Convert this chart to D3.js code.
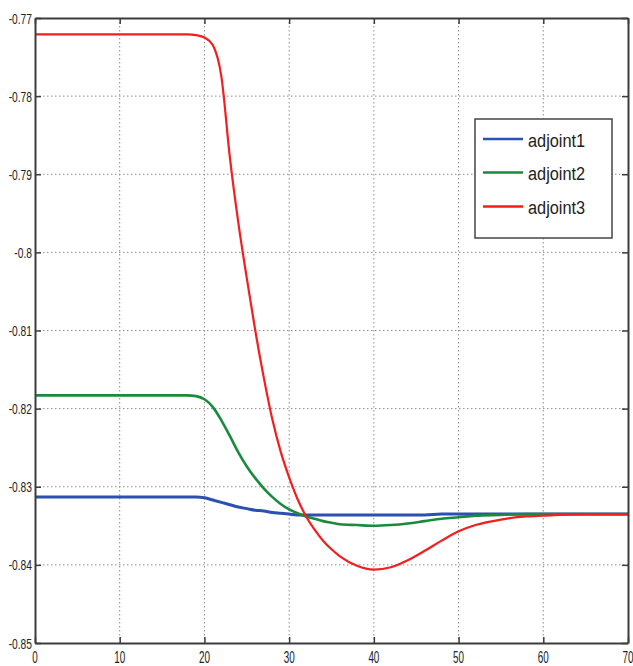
<!DOCTYPE html>
<html>
<head>
<meta charset="utf-8">
<script src="https://cdn.jsdelivr.net/npm/d3@7"></script>
<style>
  html, body { margin: 0; padding: 0; background: #fff; }
  svg { display: block; }
  .lbl { font-family: "Liberation Sans", Arial, sans-serif; fill: #222; }
</style>
</head>
<body>
<svg id="chart" width="633" height="666"></svg>
<script>
// Time samples shared by all three adjoint trajectories
const tValues = [0, 10, 18, 19, 20, 21, 22, 23, 24, 25, 26, 27, 28, 29, 30, 31, 32, 33, 34, 35, 36, 38, 40, 42, 44, 46, 48, 50, 52, 55, 58, 60, 65, 70];

const adjoint1 = [-0.8313, -0.8313, -0.8313, -0.8313, -0.8314, -0.8317, -0.8320, -0.8323, -0.8326, -0.8328, -0.8330, -0.8331, -0.8333, -0.8334, -0.8335, -0.8336, -0.8336, -0.8336, -0.8336, -0.8336, -0.8336, -0.8336, -0.8336, -0.8336, -0.8336, -0.8336, -0.8335, -0.8335, -0.8335, -0.8335, -0.8335, -0.8335, -0.8335, -0.8335];

const adjoint2 = [-0.8183, -0.8183, -0.8183, -0.8184, -0.8188, -0.8198, -0.8215, -0.8235, -0.8256, -0.8274, -0.8289, -0.8302, -0.8313, -0.8322, -0.8329, -0.8334, -0.8338, -0.8341, -0.8344, -0.8346, -0.8348, -0.8349, -0.8350, -0.8349, -0.8347, -0.8344, -0.8341, -0.8339, -0.8337, -0.8336, -0.8335, -0.8335, -0.8335, -0.8335];

const adjoint3 = [-0.7721, -0.7721, -0.7721, -0.7722, -0.7725, -0.7735, -0.7775, -0.7878, -0.7962, -0.8033, -0.8100, -0.8160, -0.8213, -0.8255, -0.8288, -0.8316, -0.8338, -0.8355, -0.8369, -0.8380, -0.8389, -0.8401, -0.8406, -0.8403, -0.8394, -0.8382, -0.8369, -0.8357, -0.8349, -0.8342, -0.8338, -0.8337, -0.8335, -0.8335];

const seriesNames = ["adjoint1", "adjoint2", "adjoint3"];
const seriesColors = ["#2b4fb3", "#1a8a3e", "#f51d1d"];

const xTicks = [0, 10, 20, 30, 40, 50, 60, 70];
const yTicks = [-0.77, -0.78, -0.79, -0.8, -0.81, -0.82, -0.83, -0.84, -0.85];
const yTickLabels = ["-0.77", "-0.78", "-0.79", "-0.8", "-0.81", "-0.82", "-0.83", "-0.84", "-0.85"];

const svg = d3.select("#chart");
const plot = { left: 35, right: 628, top: 18, bottom: 643 };

const x = d3.scaleLinear().domain([0, 70]).range([plot.left, plot.right]);
const y = d3.scaleLinear().domain([-0.85, -0.77]).range([plot.bottom, plot.top]);

// dotted grid
const grid = svg.append("g");
grid.selectAll("line.gx").data(xTicks.slice(1, -1)).join("line")
  .attr("x1", d => x(d)).attr("x2", d => x(d))
  .attr("y1", plot.top).attr("y2", plot.bottom)
  .attr("stroke", "#8c8c8c").attr("stroke-width", 1).attr("stroke-dasharray", "1.5,2.5");
grid.selectAll("line.gy").data(yTicks.slice(1, -1)).join("line")
  .attr("x1", plot.left).attr("x2", plot.right)
  .attr("y1", d => y(d)).attr("y2", d => y(d))
  .attr("stroke", "#8c8c8c").attr("stroke-width", 1).attr("stroke-dasharray", "1.5,2.5");

// curves
const series = [adjoint1, adjoint2, adjoint3];
const widths = [3, 2.6, 2.2];
const line = d3.line().x(d => x(d[0])).y(d => y(d[1])).curve(d3.curveMonotoneX);
series.forEach((vals, i) => {
  svg.append("path")
    .datum(tValues.map((t, k) => [t, vals[k]]))
    .attr("d", line)
    .attr("fill", "none")
    .attr("stroke", seriesColors[i])
    .attr("stroke-width", widths[i])
    .attr("stroke-linejoin", "round");
});

// axes box with inward ticks on all four sides
const axisCol = "#3c3c3c";
const bottomAxis = d3.axisBottom(x).tickValues(xTicks).tickSizeInner(-6).tickSizeOuter(0).tickFormat("");
const topAxis = d3.axisTop(x).tickValues(xTicks).tickSizeInner(-6).tickSizeOuter(0).tickFormat("");
const leftAxis = d3.axisLeft(y).tickValues(yTicks).tickSizeInner(-6).tickSizeOuter(0).tickFormat("");
const rightAxis = d3.axisRight(y).tickValues(yTicks).tickSizeInner(-6).tickSizeOuter(0).tickFormat("");
[
  [bottomAxis, `translate(0,${plot.bottom})`],
  [topAxis, `translate(0,${plot.top})`],
  [leftAxis, `translate(${plot.left},0)`],
  [rightAxis, `translate(${plot.right},0)`]
].forEach(([ax, tr]) => {
  const g = svg.append("g").attr("transform", tr).call(ax);
  g.selectAll("path.domain").attr("stroke", axisCol).attr("stroke-width", 2);
  g.selectAll(".tick line").attr("stroke", axisCol).attr("stroke-width", 1.5);
});

// tick labels (narrow, tall digits)
svg.append("g").selectAll("text").data(yTicks).join("text")
  .attr("class", "lbl")
  .attr("text-anchor", "end")
  .attr("font-size", 15.5)
  .attr("transform", d => `translate(32,${y(d) + 5.6}) scale(0.66,1)`)
  .text((d, i) => yTickLabels[i]);

svg.append("g").selectAll("text").data(xTicks).join("text")
  .attr("class", "lbl")
  .attr("text-anchor", "middle")
  .attr("font-size", 17)
  .attr("transform", d => `translate(${x(d)},663) scale(0.58,1)`)
  .text(d => d);

// legend
const leg = svg.append("g");
leg.append("rect")
  .attr("x", 475).attr("y", 119).attr("width", 137).attr("height", 119)
  .attr("fill", "#fff").attr("stroke", "#444").attr("stroke-width", 1.5);
const rowY = [139, 172.5, 206.5];
seriesNames.forEach((name, i) => {
  leg.append("line")
    .attr("x1", 483).attr("x2", 523)
    .attr("y1", rowY[i]).attr("y2", rowY[i])
    .attr("stroke", seriesColors[i]).attr("stroke-width", 2.5);
  leg.append("text")
    .attr("class", "lbl")
    .attr("font-size", 19)
    .attr("fill", "#111")
    .attr("transform", `translate(528,${rowY[i] + 7.5}) scale(0.86,1)`)
    .text(name);
});
</script>
</body>
</html>
